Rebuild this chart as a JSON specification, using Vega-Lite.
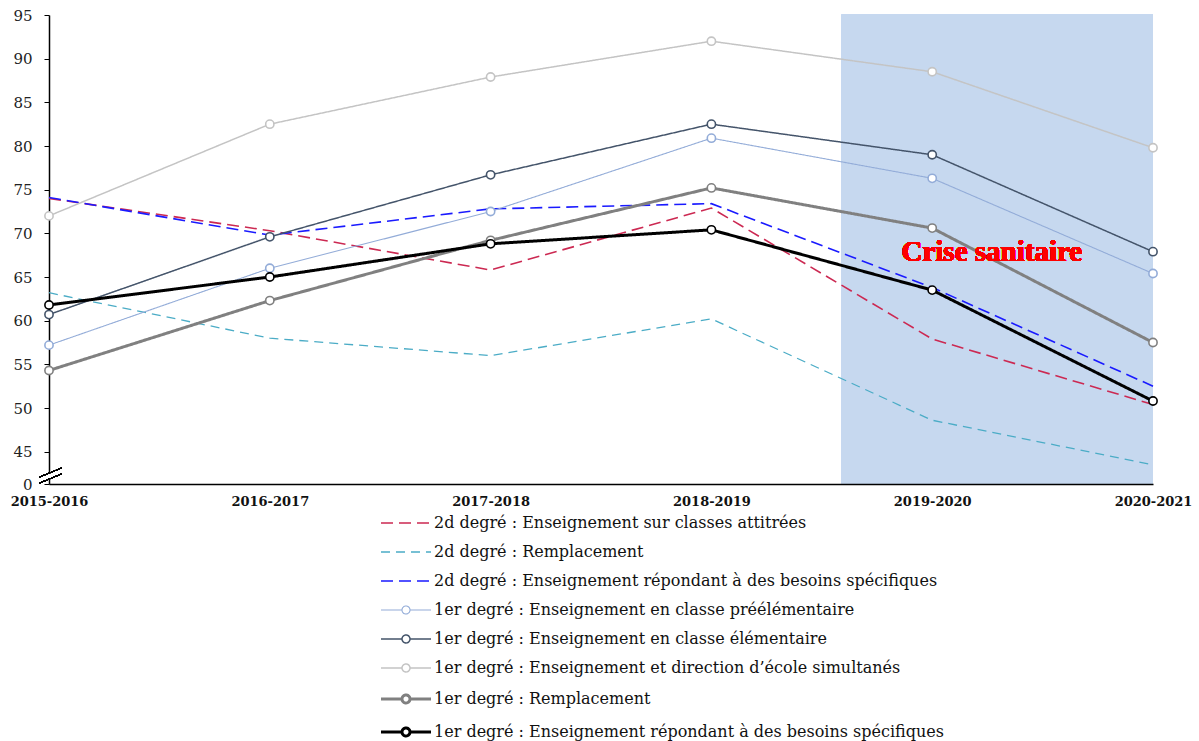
{
  "$schema": "https://vega.github.io/schema/vega-lite/v6.json",
  "width": 1104,
  "height": 469,
  "autosize": {"type": "none"},
  "padding": {"left": 49, "top": 15, "right": 46, "bottom": 257},
  "background": "white",
  "config": {
    "view": {"stroke": null},
    "font": "DejaVu Serif",
    "legend": {
      "orient": "none",
      "legendX": 349,
      "legendY": 500,
      "title": null,
      "symbolSize": 4,
      "labelFont": "DejaVu Serif",
      "labelFontSize": 16,
      "labelColor": "#111111",
      "labelOffset": 20,
      "rowPadding": 13,
      "padding": 0,
      "labelLimit": 700
    }
  },
  "datasets": {
    "series": [
      {"annee": 2015, "serie": "2d degré : Enseignement sur classes attitrées", "valeur": 74.0},
      {"annee": 2016, "serie": "2d degré : Enseignement sur classes attitrées", "valeur": 70.3},
      {"annee": 2017, "serie": "2d degré : Enseignement sur classes attitrées", "valeur": 65.8},
      {"annee": 2018, "serie": "2d degré : Enseignement sur classes attitrées", "valeur": 72.9},
      {"annee": 2019, "serie": "2d degré : Enseignement sur classes attitrées", "valeur": 57.9},
      {"annee": 2020, "serie": "2d degré : Enseignement sur classes attitrées", "valeur": 50.4},
      {"annee": 2015, "serie": "2d degré : Remplacement", "valeur": 63.2},
      {"annee": 2016, "serie": "2d degré : Remplacement", "valeur": 58.0},
      {"annee": 2017, "serie": "2d degré : Remplacement", "valeur": 56.0},
      {"annee": 2018, "serie": "2d degré : Remplacement", "valeur": 60.2},
      {"annee": 2019, "serie": "2d degré : Remplacement", "valeur": 48.6},
      {"annee": 2020, "serie": "2d degré : Remplacement", "valeur": 43.5},
      {"annee": 2015, "serie": "2d degré : Enseignement répondant à des besoins spécifiques", "valeur": 74.1},
      {"annee": 2016, "serie": "2d degré : Enseignement répondant à des besoins spécifiques", "valeur": 69.8},
      {"annee": 2017, "serie": "2d degré : Enseignement répondant à des besoins spécifiques", "valeur": 72.8},
      {"annee": 2018, "serie": "2d degré : Enseignement répondant à des besoins spécifiques", "valeur": 73.4},
      {"annee": 2019, "serie": "2d degré : Enseignement répondant à des besoins spécifiques", "valeur": 63.8},
      {"annee": 2020, "serie": "2d degré : Enseignement répondant à des besoins spécifiques", "valeur": 52.5},
      {"annee": 2015, "serie": "1er degré : Enseignement en classe préélémentaire", "valeur": 57.2},
      {"annee": 2016, "serie": "1er degré : Enseignement en classe préélémentaire", "valeur": 66.0},
      {"annee": 2017, "serie": "1er degré : Enseignement en classe préélémentaire", "valeur": 72.5},
      {"annee": 2018, "serie": "1er degré : Enseignement en classe préélémentaire", "valeur": 80.9},
      {"annee": 2019, "serie": "1er degré : Enseignement en classe préélémentaire", "valeur": 76.3},
      {"annee": 2020, "serie": "1er degré : Enseignement en classe préélémentaire", "valeur": 65.4},
      {"annee": 2015, "serie": "1er degré : Enseignement en classe élémentaire", "valeur": 60.7},
      {"annee": 2016, "serie": "1er degré : Enseignement en classe élémentaire", "valeur": 69.6},
      {"annee": 2017, "serie": "1er degré : Enseignement en classe élémentaire", "valeur": 76.7},
      {"annee": 2018, "serie": "1er degré : Enseignement en classe élémentaire", "valeur": 82.5},
      {"annee": 2019, "serie": "1er degré : Enseignement en classe élémentaire", "valeur": 79.0},
      {"annee": 2020, "serie": "1er degré : Enseignement en classe élémentaire", "valeur": 67.9},
      {"annee": 2015, "serie": "1er degré : Enseignement et direction d’école simultanés", "valeur": 72.0},
      {"annee": 2016, "serie": "1er degré : Enseignement et direction d’école simultanés", "valeur": 82.5},
      {"annee": 2017, "serie": "1er degré : Enseignement et direction d’école simultanés", "valeur": 87.9},
      {"annee": 2018, "serie": "1er degré : Enseignement et direction d’école simultanés", "valeur": 92.0},
      {"annee": 2019, "serie": "1er degré : Enseignement et direction d’école simultanés", "valeur": 88.5},
      {"annee": 2020, "serie": "1er degré : Enseignement et direction d’école simultanés", "valeur": 79.8},
      {"annee": 2015, "serie": "1er degré : Remplacement", "valeur": 54.3},
      {"annee": 2016, "serie": "1er degré : Remplacement", "valeur": 62.3},
      {"annee": 2017, "serie": "1er degré : Remplacement", "valeur": 69.2},
      {"annee": 2018, "serie": "1er degré : Remplacement", "valeur": 75.2},
      {"annee": 2019, "serie": "1er degré : Remplacement", "valeur": 70.6},
      {"annee": 2020, "serie": "1er degré : Remplacement", "valeur": 57.5},
      {"annee": 2015, "serie": "1er degré : Enseignement répondant à des besoins spécifiques", "valeur": 61.8},
      {"annee": 2016, "serie": "1er degré : Enseignement répondant à des besoins spécifiques", "valeur": 65.0},
      {"annee": 2017, "serie": "1er degré : Enseignement répondant à des besoins spécifiques", "valeur": 68.8},
      {"annee": 2018, "serie": "1er degré : Enseignement répondant à des besoins spécifiques", "valeur": 70.4},
      {"annee": 2019, "serie": "1er degré : Enseignement répondant à des besoins spécifiques", "valeur": 63.5},
      {"annee": 2020, "serie": "1er degré : Enseignement répondant à des besoins spécifiques", "valeur": 50.8}
    ]
  },
  "data": {"name": "series"},
  "encoding": {
    "x": {
      "field": "annee",
      "type": "quantitative",
      "scale": {"domain": [2015, 2020], "nice": false, "zero": false},
      "axis": {
        "title": null,
        "values": [2015, 2016, 2017, 2018, 2019, 2020],
        "labelExpr": "datum.value + '-' + (datum.value + 1)",
        "labelFont": "DejaVu Serif",
        "labelFontWeight": "bold",
        "labelFontSize": 13,
        "labelColor": "#111111",
        "labelPadding": 11,
        "labelFlush": false,
        "labelOverlap": false,
        "ticks": false,
        "grid": false,
        "domainColor": "#000000",
        "domainWidth": 1.5,
        "zindex": 1
      }
    },
    "y": {
      "field": "valeur",
      "type": "quantitative",
      "scale": {"domain": [41.3, 95], "nice": false, "zero": false},
      "axis": {
        "title": null,
        "values": [41.3, 45, 50, 55, 60, 65, 70, 75, 80, 85, 90, 95],
        "labelExpr": "datum.value < 44 ? '0' : format(datum.value, 'd')",
        "labelFont": "DejaVu Serif",
        "labelFontSize": 15,
        "labelColor": "#222222",
        "labelPadding": 12,
        "tickSize": 5,
        "tickColor": "#000000",
        "grid": false,
        "domainColor": "#000000",
        "domainWidth": 1.5,
        "zindex": 0
      }
    }
  },
  "layer": [
    {
      "mark": {"type": "rect", "color": "#C6D8EF", "opacity": 1},
      "encoding": {
        "x": {"datum": 2018.59},
        "x2": {"datum": 2020},
        "y": {"datum": 41.3},
        "y2": {"datum": 95.05}
      }
    },
    {
      "mark": {"type": "rule", "color": "white", "strokeWidth": 4},
      "encoding": {
        "x": {"datum": 2014.957},
        "x2": {"datum": 2015.057},
        "y": {"datum": 41.76},
        "y2": {"datum": 42.79}
      }
    },
    {
      "mark": {"type": "rule", "color": "black", "strokeWidth": 1},
      "encoding": {
        "x": {"datum": 2014.957},
        "x2": {"datum": 2015.057},
        "y": {"datum": 42.1},
        "y2": {"datum": 43.13}
      }
    },
    {
      "mark": {"type": "rule", "color": "black", "strokeWidth": 1},
      "encoding": {
        "x": {"datum": 2014.957},
        "x2": {"datum": 2015.057},
        "y": {"datum": 41.41},
        "y2": {"datum": 42.45}
      }
    },
    {
      "mark": {"type": "line", "interpolate": "linear"},
      "encoding": {
        "color": {
          "field": "serie",
          "type": "nominal",
          "scale": {
            "domain": [
              "2d degré : Enseignement sur classes attitrées",
              "2d degré : Remplacement",
              "2d degré : Enseignement répondant à des besoins spécifiques",
              "1er degré : Enseignement en classe préélémentaire",
              "1er degré : Enseignement en classe élémentaire",
              "1er degré : Enseignement et direction d’école simultanés",
              "1er degré : Remplacement",
              "1er degré : Enseignement répondant à des besoins spécifiques"
            ],
            "range": ["#CC2952", "#4BACC6", "#1A1AFF", "#93ACD8", "#44546A", "#C4C4C4", "#808080", "#000000"]
          },
          "legend": {"encode": {"symbols": {"update": {"fill": {"value": "white"}}}}}
        },
        "strokeDash": {
          "field": "serie",
          "type": "nominal",
          "scale": {
            "domain": [
              "2d degré : Enseignement sur classes attitrées",
              "2d degré : Remplacement",
              "2d degré : Enseignement répondant à des besoins spécifiques",
              "1er degré : Enseignement en classe préélémentaire",
              "1er degré : Enseignement en classe élémentaire",
              "1er degré : Enseignement et direction d’école simultanés",
              "1er degré : Remplacement",
              "1er degré : Enseignement répondant à des besoins spécifiques"
            ],
            "range": [[12, 6], [9, 6], [12, 6], [1, 0], [1, 0], [1, 0], [1, 0], [1, 0]]
          }
        },
        "strokeWidth": {
          "field": "serie",
          "type": "nominal",
          "scale": {
            "type": "ordinal",
            "domain": [
              "2d degré : Enseignement sur classes attitrées",
              "2d degré : Remplacement",
              "2d degré : Enseignement répondant à des besoins spécifiques",
              "1er degré : Enseignement en classe préélémentaire",
              "1er degré : Enseignement en classe élémentaire",
              "1er degré : Enseignement et direction d’école simultanés",
              "1er degré : Remplacement",
              "1er degré : Enseignement répondant à des besoins spécifiques"
            ],
            "range": [1.6, 1.3, 1.6, 1.1, 1.5, 1.5, 3, 3]
          }
        }
      }
    },
    {
      "transform": [{"filter": "indexof(datum.serie, '1er') === 0"}],
      "mark": {"type": "point", "filled": false, "fill": "white", "fillOpacity": 1, "size": 68, "strokeWidth": 1.6, "opacity": 1},
      "encoding": {
        "color": {"field": "serie", "type": "nominal"}
      }
    },
    {
      "transform": [{"filter": "false"}],
      "mark": {"type": "point", "filled": false},
      "encoding": {
        "color": {"field": "serie", "type": "nominal"},
        "shape": {
          "field": "serie",
          "type": "nominal",
          "scale": {
            "domain": [
              "2d degré : Enseignement sur classes attitrées",
              "2d degré : Remplacement",
              "2d degré : Enseignement répondant à des besoins spécifiques",
              "1er degré : Enseignement en classe préélémentaire",
              "1er degré : Enseignement en classe élémentaire",
              "1er degré : Enseignement et direction d’école simultanés",
              "1er degré : Remplacement",
              "1er degré : Enseignement répondant à des besoins spécifiques"
            ],
            "range": [
              "M-25,0H25",
              "M-25,0H25",
              "M-25,0H25",
              "M-25,0H-4M4,0H25M-4,0A4,4 0 1,0 4,0A4,4 0 1,0 -4,0Z",
              "M-25,0H-4M4,0H25M-4,0A4,4 0 1,0 4,0A4,4 0 1,0 -4,0Z",
              "M-25,0H-4M4,0H25M-4,0A4,4 0 1,0 4,0A4,4 0 1,0 -4,0Z",
              "M-25,0H-4M4,0H25M-4,0A4,4 0 1,0 4,0A4,4 0 1,0 -4,0Z",
              "M-25,0H-4M4,0H25M-4,0A4,4 0 1,0 4,0A4,4 0 1,0 -4,0Z"
            ]
          }
        }
      }
    },
    {
      "mark": {"type": "text", "text": "Crise sanitaire", "font": "Liberation Serif", "fontWeight": "bold", "fontSize": 29, "color": "#FF0000", "align": "center", "baseline": "middle"},
      "encoding": {
        "x": {"datum": 2019.27},
        "y": {"datum": 67.87}
      }
    }
  ]
}
